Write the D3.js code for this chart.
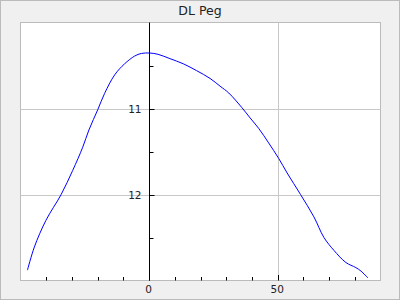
<!DOCTYPE html>
<html><head><meta charset="utf-8">
<script src="https://cdn.jsdelivr.net/npm/d3@7"></script>
<style>html,body{margin:0;padding:0;background:#f0f0f0;}svg{display:block;}</style>
</head><body>
<svg id="c" width="400" height="300"></svg>
<script>
const title = "DL Peg";
const phase = [-47.3,-44.6,-40.1,-34.2,-29.7,-25.8,-23.4,-19.9,-17.3,-13.4,-9.5,-5.6,-3.0,0.3,3.5,8.1,13.3,18.5,23.7,27.6,31.0,36.1,39.3,42.6,46.5,50.4,53.7,58.9,64.1,68.0,71.9,76.5,80.4,82.4,85.1];
const mag = [12.88,12.61,12.30,12.00,11.72,11.45,11.25,11.01,10.825,10.61,10.48,10.39,10.36,10.355,10.37,10.42,10.48,10.56,10.65,10.74,10.82,10.99,11.11,11.23,11.40,11.58,11.75,12.00,12.26,12.50,12.65,12.79,12.85,12.89,12.97];
const xMajor = [0, 50];
const xMinor = [-40,-30,-20,-10,10,20,30,40,60,70,80];
const yMajor = [11, 12];
const yMinor = [10.5, 11.5, 12.5];

const svg = d3.select("#c");
const W = 400, H = 300;
const L = 20.5, R = 380.5, T = 22.5, B = 280.5;
const x = d3.scaleLinear().domain([-50, 90]).range([L, R]);
const y = d3.scaleLinear().domain([10, 13]).range([T, B]);

svg.append("rect").attr("x",0.5).attr("y",0.5).attr("width",W-1).attr("height",H-1)
  .attr("fill","#f0f0f0").attr("stroke","#bbb");
svg.append("rect").attr("x",L).attr("y",T).attr("width",R-L).attr("height",B-T)
  .attr("fill","#fff").attr("stroke","#bbb");

svg.append("text").attr("x",200).attr("y",14.5).attr("text-anchor","middle")
  .attr("font-family","DejaVu Sans").attr("font-size","12.5px").attr("fill","#222").text(title);

const g = svg.append("g");
// grid
g.selectAll(".hg").data(yMajor).enter().append("line")
  .attr("x1",L).attr("x2",R).attr("y1",d=>Math.round(y(d))+0.5).attr("y2",d=>Math.round(y(d))+0.5)
  .attr("stroke","#c8c8c8");
g.selectAll(".vg").data(xMajor.filter(d=>d!==0)).enter().append("line")
  .attr("y1",T).attr("y2",B).attr("x1",d=>Math.round(x(d))+0.5).attr("x2",d=>Math.round(x(d))+0.5)
  .attr("stroke","#c8c8c8");

const x0 = Math.round(x(0)) + 0.5;
// x ticks at bottom
g.selectAll(".xt").data(xMinor).enter().append("line")
  .attr("x1",d=>Math.round(x(d))+0.5).attr("x2",d=>Math.round(x(d))+0.5)
  .attr("y1",B).attr("y2",B-3.5).attr("stroke","#000");
g.selectAll(".xT").data(xMajor).enter().append("line")
  .attr("x1",d=>Math.round(x(d))+0.5).attr("x2",d=>Math.round(x(d))+0.5)
  .attr("y1",B).attr("y2",B-5.5).attr("stroke","#000");
g.selectAll(".xl").data(xMajor).enter().append("text")
  .attr("x",d=>x(d)-0.5).attr("y",292.5).attr("text-anchor","middle")
  .attr("font-family","DejaVu Sans").attr("font-size","10.5px").attr("fill","#222").text(d=>d);

// y axis at x=0
g.append("line").attr("x1",x0).attr("x2",x0).attr("y1",T).attr("y2",B).attr("stroke","#000");
g.selectAll(".yt").data(yMinor).enter().append("line")
  .attr("x1",x0).attr("x2",x0+4).attr("y1",d=>Math.round(y(d))+0.5).attr("y2",d=>Math.round(y(d))+0.5).attr("stroke","#000");
g.selectAll(".yT").data(yMajor).enter().append("line")
  .attr("x1",x0).attr("x2",x0+5).attr("y1",d=>Math.round(y(d))+0.5).attr("y2",d=>Math.round(y(d))+0.5).attr("stroke","#000");
g.selectAll(".yl").data(yMajor).enter().append("text")
  .attr("x",x0-8).attr("y",d=>y(d)+4).attr("text-anchor","end")
  .attr("font-family","DejaVu Sans").attr("font-size","10.5px").attr("fill","#222").text(d=>d);

const pts = phase.map((p,i)=>[p, mag[i]]);
const line = d3.line().x(d=>x(d[0])).y(d=>y(d[1])).curve(d3.curveCatmullRom.alpha(0.5));
g.append("path").attr("d", line(pts)).attr("fill","none").attr("stroke","#0000ff").attr("stroke-width",1);
</script>
</body></html>
